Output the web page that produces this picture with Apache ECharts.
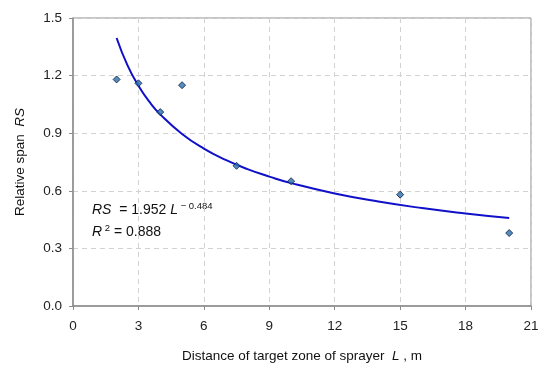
<!DOCTYPE html>
<html><head><meta charset="utf-8">
<script src="https://cdn.jsdelivr.net/npm/echarts@6/dist/echarts.min.js"></script>
<style>html,body{margin:0;padding:0;background:#fff}#c{width:550px;height:371px}</style>
</head><body><div id="c"></div>
<script>
var distances = [2, 3, 4, 5, 7.5, 10, 15, 20];
var spans = [1.18, 1.16, 1.01, 1.15, 0.73, 0.65, 0.58, 0.38];
var trendX = [2, 2.5, 3, 3.5, 4, 5, 6, 7, 8, 9, 10, 12, 14, 16, 18, 20];
var trendY = [1.396, 1.253, 1.147, 1.064, 0.998, 0.896, 0.820, 0.761, 0.713, 0.674, 0.640, 0.586, 0.544, 0.510, 0.482, 0.458];
var xTicks = [0, 3, 6, 9, 12, 15, 18, 21];
var yTicks = [0.0, 0.3, 0.6, 0.9, 1.2, 1.5];

var font = 'Liberation Sans, Arial, sans-serif';
var fs = 13.5;
var chart = echarts.init(document.getElementById('c'));
chart.setOption({
  animation: false,
  backgroundColor: '#fff',
  grid: {left: 73, right: 19, top: 18, bottom: 65, show: true, borderColor: '#8c8c8c', borderWidth: 1},
  xAxis: {
    type: 'value', min: xTicks[0], max: xTicks[xTicks.length-1], interval: 3,
    axisLine: {lineStyle: {color: '#8c8c8c', width: 1.5}},
    axisTick: {show: true, length: 4, lineStyle: {color: '#8c8c8c'}},
    axisLabel: {color: '#222', fontSize: fs, fontFamily: font, margin: 13},
    splitLine: {lineStyle: {color: '#d2d2d2', type: [5, 4]}},
    name: '{n|Distance of target zone of sprayer  }{i|L}{n| , m}',
    nameLocation: 'middle', nameGap: 43,
    nameTextStyle: {rich: {n: {fontSize: fs, fontFamily: font, color: '#111'}, i: {fontSize: fs, fontFamily: font, fontStyle: 'italic', color: '#111'}}}
  },
  yAxis: {
    type: 'value', min: yTicks[0], max: yTicks[yTicks.length-1], interval: 0.3,
    axisLine: {show: true, lineStyle: {color: '#8c8c8c', width: 1.5}},
    axisTick: {show: true, length: 4, lineStyle: {color: '#8c8c8c'}},
    axisLabel: {color: '#222', fontSize: fs, fontFamily: font, margin: 11, formatter: function(v){return v.toFixed(1);}},
    splitLine: {lineStyle: {color: '#d2d2d2', type: [5, 4]}},
    name: '{n|Relative span  }{i|RS}',
    nameLocation: 'middle', nameGap: 46,
    nameTextStyle: {rich: {n: {fontSize: fs, fontFamily: font, color: '#111'}, i: {fontSize: fs, fontFamily: font, fontStyle: 'italic', color: '#111'}}}
  },
  series: [
    {type: 'line', data: trendX.map(function(x, i){return [x, trendY[i]];}), smooth: true, showSymbol: false,
     lineStyle: {color: '#1010c8', width: 2}, z: 2},
    {type: 'scatter', data: distances.map(function(x, i){return [x, spans[i]];}), symbol: 'diamond', symbolSize: 7,
     itemStyle: {color: '#2a6fb0', borderColor: '#0b1a40', borderWidth: 1}, z: 3}
  ],
  graphic: [
    {type: 'text', left: 92, top: 201, style: {
      text: '{i|RS}{n|  = 1.952 }{i|L}{s| − 0.484}',
      rich: {n: {fontSize: 14, fontFamily: font, fill: '#111'}, i: {fontSize: 14, fontFamily: font, fontStyle: 'italic', fill: '#111'},
             s: {fontSize: 9.5, fontFamily: font, fill: '#111', verticalAlign: 'top', padding: [0,0,8,0]}}}},
    {type: 'text', left: 92, top: 223, style: {
      text: '{i|R}{s| 2}{n| = 0.888}',
      rich: {n: {fontSize: 14, fontFamily: font, fill: '#111'}, i: {fontSize: 14, fontFamily: font, fontStyle: 'italic', fill: '#111'},
             s: {fontSize: 9.5, fontFamily: font, fill: '#111', verticalAlign: 'top', padding: [0,0,8,0]}}}}
  ]
});
</script></body></html>
